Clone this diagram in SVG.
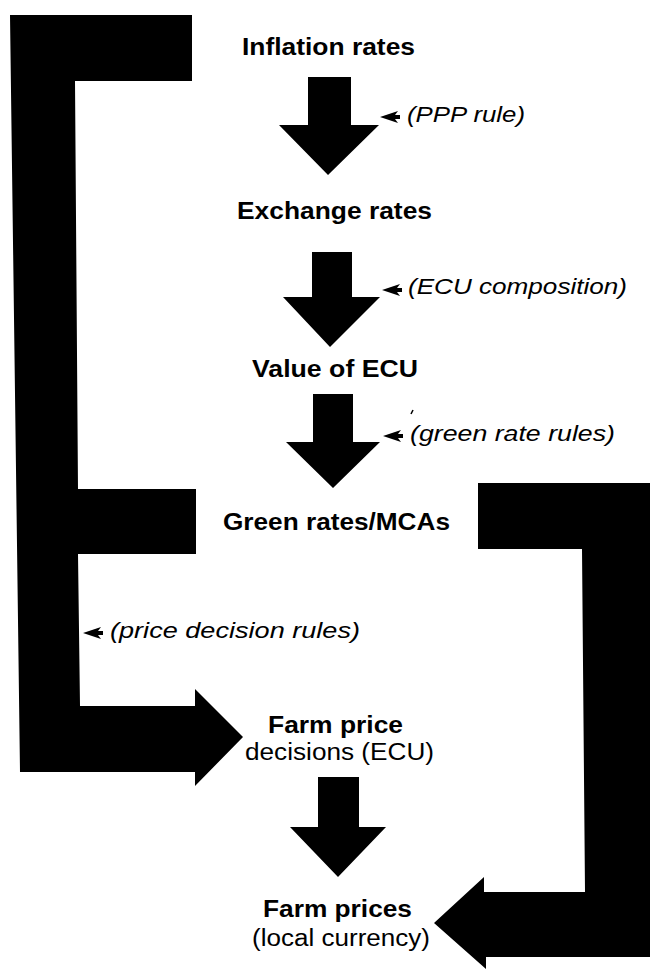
<svg xmlns="http://www.w3.org/2000/svg" xmlns:xlink="http://www.w3.org/1999/xlink" width="652" height="969" viewBox="0 0 652 969">
<style>
.bg{fill:#ffffff}
.blk{fill:#000000}
.b{font-family:"Liberation Sans",Arial,sans-serif;font-weight:bold;font-size:23px;fill:#000}
.r{font-family:"Liberation Sans",Arial,sans-serif;font-size:23px;fill:#000}
.i{font-family:"Liberation Sans",Arial,sans-serif;font-style:italic;font-size:22px;fill:#000}
</style>
<defs>
<path id="ptr" d="M0,0 L18,-6 L15,-2 L20,-2 L20,2 L15,2 L18,6 Z" fill="#000"/>
</defs>
<rect class="bg" x="0" y="0" width="652" height="969"/>
<g id="connectors">
<polygon class="blk" points="10,15 192,15 192,81 75,81 78,489 196,489 196,554 78,554 80,706 195,706 195,689 243,737 195,786 195,772 20,772"/>
<polygon class="blk" points="478,483 650,483 650,957 486,957 486,969 434,923 484,877 484,892 585,892 582,549 478,549"/>
<polygon class="blk" points="308,77 351,77 351,125 379,125 328,175 279,125 308,125"/>
<polygon class="blk" points="312,252 352,252 352,297 380,297 330,347 283,297 312,297"/>
<polygon class="blk" points="313,394 353,394 353,442 380,442 333,488 286,442 313,442"/>
<polygon class="blk" points="318,777 359,777 359,827 386,827 338,877 290,827 318,827"/>
</g>
<g id="n-inflation"><text class="b" x="242" y="55" textLength="173" lengthAdjust="spacingAndGlyphs">Inflation rates</text></g>
<g id="n-exchange"><text class="b" x="237" y="219" textLength="195" lengthAdjust="spacingAndGlyphs">Exchange rates</text></g>
<g id="n-ecu"><text class="b" x="252" y="377" textLength="166" lengthAdjust="spacingAndGlyphs">Value of ECU</text></g>
<g id="n-green"><text class="b" x="223" y="530" textLength="227" lengthAdjust="spacingAndGlyphs">Green rates/MCAs</text></g>
<g id="n-decisions">
<text class="b" x="268" y="733" textLength="135" lengthAdjust="spacingAndGlyphs">Farm price</text>
<text class="r" x="245" y="760" textLength="189" lengthAdjust="spacingAndGlyphs">decisions (ECU)</text>
</g>
<g id="n-prices">
<text class="b" x="263" y="917" textLength="149" lengthAdjust="spacingAndGlyphs">Farm prices</text>
<text class="r" x="252" y="946" textLength="178" lengthAdjust="spacingAndGlyphs">(local currency)</text>
</g>
<g id="l-ppp"><use xlink:href="#ptr" x="380" y="117"/><text class="i" x="407" y="122" textLength="118" lengthAdjust="spacingAndGlyphs">(PPP rule)</text></g>
<g id="l-comp"><use xlink:href="#ptr" x="382" y="290"/><text class="i" x="408" y="294" textLength="219" lengthAdjust="spacingAndGlyphs">(ECU composition)</text></g>
<g id="l-greenrules"><use xlink:href="#ptr" x="383" y="436"/><text class="i" x="410" y="441" textLength="205" lengthAdjust="spacingAndGlyphs">(green rate rules)</text>
<line x1="413" y1="410" x2="411" y2="414" stroke="#000" stroke-width="1.5"/></g>
<g id="l-price"><use xlink:href="#ptr" x="83" y="633"/><text class="i" x="110" y="638" textLength="250" lengthAdjust="spacingAndGlyphs">(price decision rules)</text></g>
</svg>
